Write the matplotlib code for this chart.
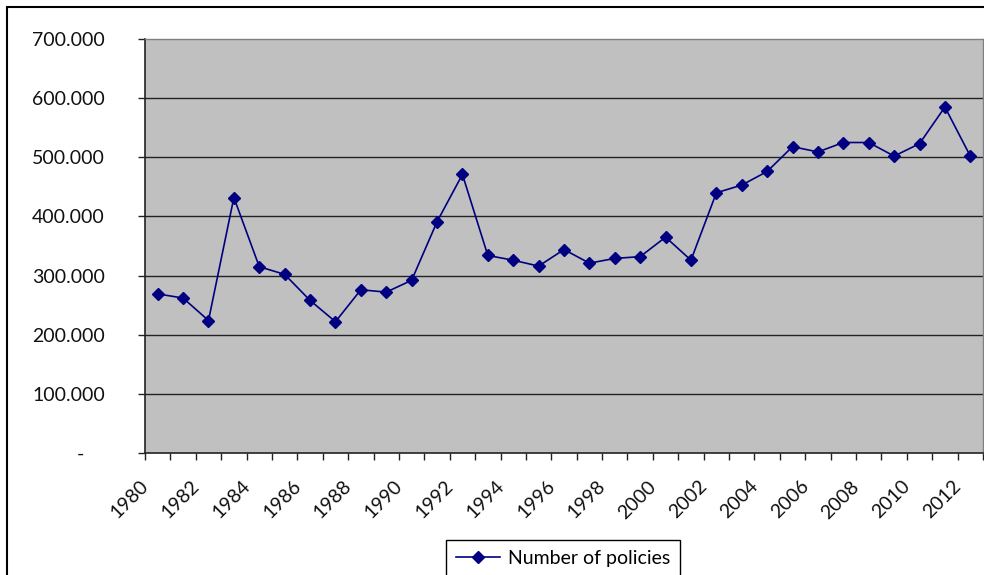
import matplotlib.pyplot as plt
import matplotlib.transforms as mtransforms
from matplotlib.patches import Rectangle
from matplotlib.ticker import FixedLocator, FuncFormatter

plt.rcParams['font.family'] = ['Lato', 'DejaVu Sans']

# number of policies per year
years = list(range(1980, 2013))
policies = [269000, 262000, 224000, 432000, 315000, 302000, 258000, 222000,
            276000, 272000, 292000, 391000, 471000, 334000, 326000, 316000,
            344000, 321000, 329000, 332000, 365000, 326000, 440000, 453000,
            476000, 518000, 509000, 525000, 525000, 502000, 523000, 585000,
            502000]
y_ticks = [0, 100000, 200000, 300000, 400000, 500000, 600000, 700000]

fig = plt.figure(figsize=(9.84, 5.75), dpi=100)
ax = fig.add_axes([145/984, 1-453/575, (983-145)/984, (453-39)/575])
ax.set_facecolor('#c0c0c0')

x = list(range(len(years)))
ax.plot(x, policies, color='#000080', lw=1.2, marker='D', ms=6,
        mfc='#000080', mec='#000080', label='Number of policies', zorder=3)

ax.set_xlim(-0.5, len(years)-0.5)
ax.set_ylim(0, 700000)

# y axis: excel style thousands with dots, dash for zero
def fmt(v, pos):
    if v == 0:
        return '-    '
    return '{:,.0f}'.format(v).replace(',', '.')

ax.yaxis.set_major_locator(FixedLocator(y_ticks))
ax.yaxis.set_major_formatter(FuncFormatter(fmt))
ax.tick_params(axis='y', length=5, width=1, color='#222222', pad=24,
               labelsize=14, labelcolor='#111111')
for g in y_ticks[1:-1]:
    ax.axhline(g, color='#222222', lw=1, zorder=1)

# x axis: ticks between categories, labels every two years
ax.set_xticks(x[::2])
ax.set_xticklabels([str(y) for y in years[::2]])
ax.set_xticks([i - 0.5 for i in range(len(years)+1)], minor=True)
ax.tick_params(axis='x', which='major', length=0, pad=22, labelsize=14,
               labelcolor='#111111')
ax.tick_params(axis='x', which='minor', length=5, width=1, color='#222222')
shift = mtransforms.ScaledTranslation(-0.12, 0, fig.dpi_scale_trans)
for lab in ax.get_xticklabels():
    lab.set_rotation(45)
    lab.set_rotation_mode('anchor')
    lab.set_ha('right')
    lab.set_va('center')
    lab.set_transform(lab.get_transform() + shift)

for s in ['left', 'bottom']:
    ax.spines[s].set_color('#222222')
    ax.spines[s].set_linewidth(1.2)
for s in ['top', 'right']:
    ax.spines[s].set_color('#808080')
    ax.spines[s].set_linewidth(1)

leg = fig.legend(loc='upper left', bbox_to_anchor=(446/984, 1-540/575),
                 fontsize=14, frameon=True, fancybox=False,
                 edgecolor='black', framealpha=1, borderpad=0.5,
                 handlelength=2.3, handletextpad=0.4, borderaxespad=0)
leg.get_frame().set_linewidth(1)

# chart outer border
fig.patches.append(Rectangle((7/984, -0.1), 1.2, 1.1 - 7/575, fill=False,
                             edgecolor='black', lw=1.5,
                             transform=fig.transFigure, figure=fig))

fig.savefig('out.png', dpi=100)
